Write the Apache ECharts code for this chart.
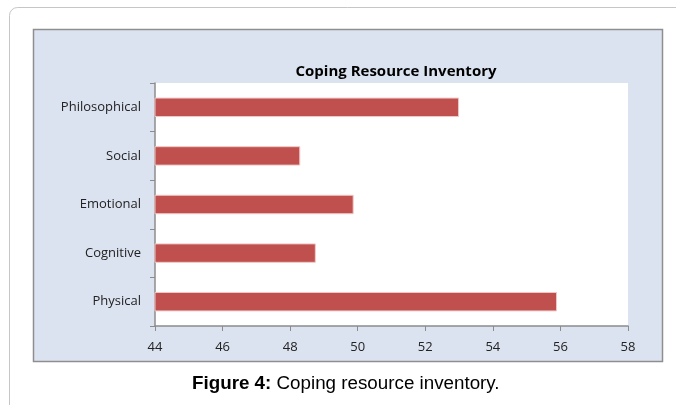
<!DOCTYPE html>
<html>
<head>
<meta charset="utf-8">
<script src="https://cdn.jsdelivr.net/npm/echarts@6/dist/echarts.min.js"></script>
<style>
html,body{margin:0;padding:0;background:#fff;}
#c{width:676px;height:405px;}
</style>
</head>
<body>
<div id="c"></div>
<script>
var categories = ['Physical', 'Cognitive', 'Emotional', 'Social', 'Philosophical'];
var values = [55.9, 48.76, 49.88, 48.3, 53.0];
var xTicks = { min: 44, max: 58, interval: 2 };
var chartTitle = 'Coping Resource Inventory';
var captionBold = 'Figure 4:';
var captionText = ' Coping resource inventory.';

var chart = echarts.init(document.getElementById('c'), null, { renderer: 'canvas' });
chart.setOption({
  animation: false,
  backgroundColor: '#ffffff',
  graphic: [
    { type: 'rect', z: -10, shape: { x: 9.5, y: 7.5, width: 720, height: 460, r: 8 },
      style: { fill: 'none', stroke: '#c6c6c6', lineWidth: 1 } },
    { type: 'rect', z: -9, shape: { x: 33.5, y: 29.5, width: 629, height: 332 },
      style: { fill: '#dce3f0', stroke: '#8e8e8e', lineWidth: 1.5 } },
    { type: 'text', left: 192, top: 374, z: 5,
      style: { text: '{b|' + captionBold + '}{n|' + captionText + '}',
        rich: {
          b: { fontFamily: 'Liberation Sans', fontWeight: 'bold', fontSize: 18.8, fill: '#000' },
          n: { fontFamily: 'Liberation Sans', fontSize: 18.8, fill: '#000' }
        } } }
  ],
  title: {
    text: chartTitle,
    left: 391, top: 59, textAlign: 'center',
    textStyle: { fontFamily: 'Open Sans', fontWeight: 'bold', fontSize: 15, color: '#000' }
  },
  grid: { left: 155, right: 48, top: 83, bottom: 79, show: true, backgroundColor: '#ffffff', borderWidth: 0 },
  xAxis: {
    type: 'value', min: xTicks.min, max: xTicks.max, interval: xTicks.interval,
    axisLine: { show: true, lineStyle: { color: '#8c8c8c', width: 1.5 } },
    axisTick: { show: true, inside: false, length: 5, lineStyle: { color: '#8c8c8c' } },
    splitLine: { show: false },
    axisLabel: { margin: 15, fontFamily: 'Open Sans', fontSize: 13, color: '#222' }
  },
  yAxis: {
    type: 'category', data: categories, boundaryGap: true,
    axisLine: { show: true, lineStyle: { color: '#8c8c8c', width: 1.5 } },
    axisTick: { show: true, length: 5, alignWithLabel: false, lineStyle: { color: '#8c8c8c' } },
    axisLabel: { margin: 14, fontFamily: 'Open Sans', fontSize: 13, color: '#222' }
  },
  series: [{
    type: 'bar', data: values, barWidth: '40%',
    itemStyle: { color: '#c0504d', borderColor: '#f0c8c7', borderWidth: 1 }
  }]
});
</script>
</body>
</html>
